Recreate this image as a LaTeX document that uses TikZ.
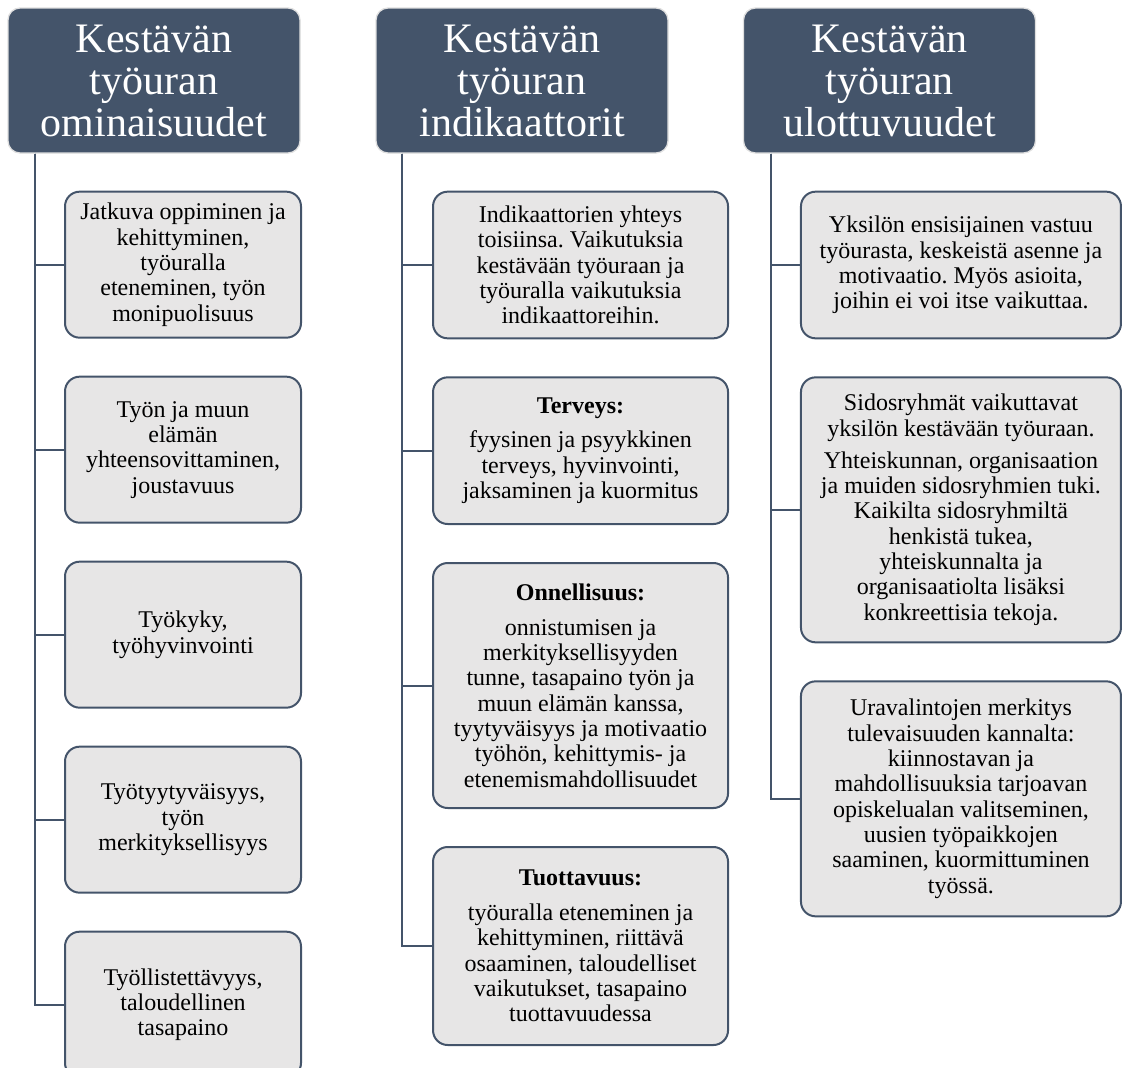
\documentclass[tikz,border=0pt]{standalone}
\usepackage{fontspec}
\setmainfont{Liberation Serif}
\usetikzlibrary{positioning}
\definecolor{slate}{HTML}{44546A}
\definecolor{boxgray}{HTML}{E7E6E6}

\begin{document}
\begin{tikzpicture}[
  x=0.75pt, y=-0.75pt,
  node distance=27.75pt,
  head/.style={
    fill=slate, draw=gray!25, line width=1pt, rounded corners=9pt,
    minimum width=219pt, minimum height=108.75pt, align=center,
    text=white, font=\fontsize{31.5}{31.5}\selectfont
  },
  item/.style={
    fill=boxgray, draw=slate, line width=1.5pt, rounded corners=11pt,
    align=center, inner sep=2pt, font=\fontsize{18}{19}\selectfont\frenchspacing
  },
  itemA/.style={item, minimum width=177pt, minimum height=109.5pt},
  itemB/.style={item, minimum width=221.25pt, minimum height=110pt},
  itemC/.style={item, minimum width=240pt, minimum height=110pt},
  link/.style={draw=slate, line width=1.5pt}
]
  \useasboundingbox (0,0) rectangle (1122,1068);

  % Otsikot
  \node[head] (h1) at (154,80.5) {Kestävän\\työuran\\ominaisuudet};
  \node[head] (h2) at (522,80.5) {Kestävän\\työuran\\indikaattorit};
  \node[head] (h3) at (889.5,80.5) {Kestävän\\työuran\\ulottuvuudet};

  % Ominaisuudet
  \node[itemA, below=of h1, xshift=21.75pt] (c1) {Jatkuva oppiminen ja\\kehittyminen,\\työuralla\\eteneminen, työn\\monipuolisuus};
  \node[itemA, below=of c1] (c2) {Työn ja muun\\elämän\\yhteensovittaminen,\\joustavuus};
  \node[itemA, below=of c2] (c3) {Työkyky,\\työhyvinvointi};
  \node[itemA, below=of c3] (c4) {Työtyytyväisyys,\\työn\\merkityksellisyys};
  \node[itemA, below=of c4] (c5) {Työllistettävyys,\\taloudellinen\\tasapaino};

  % Indikaattorit
  \node[itemB, below=of h2, xshift=43.9pt] (d1) {Indikaattorien yhteys\\toisiinsa. Vaikutuksia\\kestävään työuraan ja\\työuralla vaikutuksia\\indikaattoreihin.};
  \node[itemB, below=of d1] (d2) {\textbf{Terveys:}\\[7pt]fyysinen ja psyykkinen\\terveys, hyvinvointi,\\jaksaminen ja kuormitus};
  \node[itemB, below=of d2, minimum height=183.75pt] (d3) {\textbf{Onnellisuus:}\\[7pt]onnistumisen ja\\merkityksellisyyden\\tunne, tasapaino työn ja\\muun elämän kanssa,\\tyytyväisyys ja motivaatio\\työhön, kehittymis- ja\\etenemismahdollisuudet};
  \node[itemB, below=of d3, minimum height=148.5pt] (d4) {\textbf{Tuottavuus:}\\[7pt]työuralla eteneminen ja\\kehittyminen, riittävä\\osaaminen, taloudelliset\\vaikutukset, tasapaino\\tuottavuudessa};

  % Ulottuvuudet
  \node[itemC, below=of h3, xshift=53.6pt] (e1) {Yksilön ensisijainen vastuu\\työurasta, keskeistä asenne ja\\motivaatio. Myös asioita,\\joihin ei voi itse vaikuttaa.};
  \node[itemC, below=of e1, minimum height=198.75pt] (e2) {Sidosryhmät vaikuttavat\\yksilön kestävään työuraan.\\[5pt]Yhteiskunnan, organisaation\\ja muiden sidosryhmien tuki.\\Kaikilta sidosryhmiltä\\henkistä tukea,\\yhteiskunnalta ja\\organisaatiolta lisäksi\\konkreettisia tekoja.};
  \node[itemC, below=of e2, minimum height=176.25pt] (e3) {Uravalintojen merkitys\\tulevaisuuden kannalta:\\kiinnostavan ja\\mahdollisuuksia tarjoavan\\opiskelualan valitseminen,\\uusien työpaikkojen\\saaminen, kuormittuminen\\työssä.};

  % Yhdysviivat
  \foreach \c in {c1,c2,c3,c4,c5}
    \draw[link] (h1.south west) ++(21pt,0) |- (\c.west);
  \foreach \d in {d1,d2,d3,d4}
    \draw[link] (h2.south west) ++(20.25pt,0) |- (\d.west);
  \foreach \e in {e1,e2,e3}
    \draw[link] (h3.south west) ++(21pt,0) |- (\e.west);

\end{tikzpicture}
\end{document}
